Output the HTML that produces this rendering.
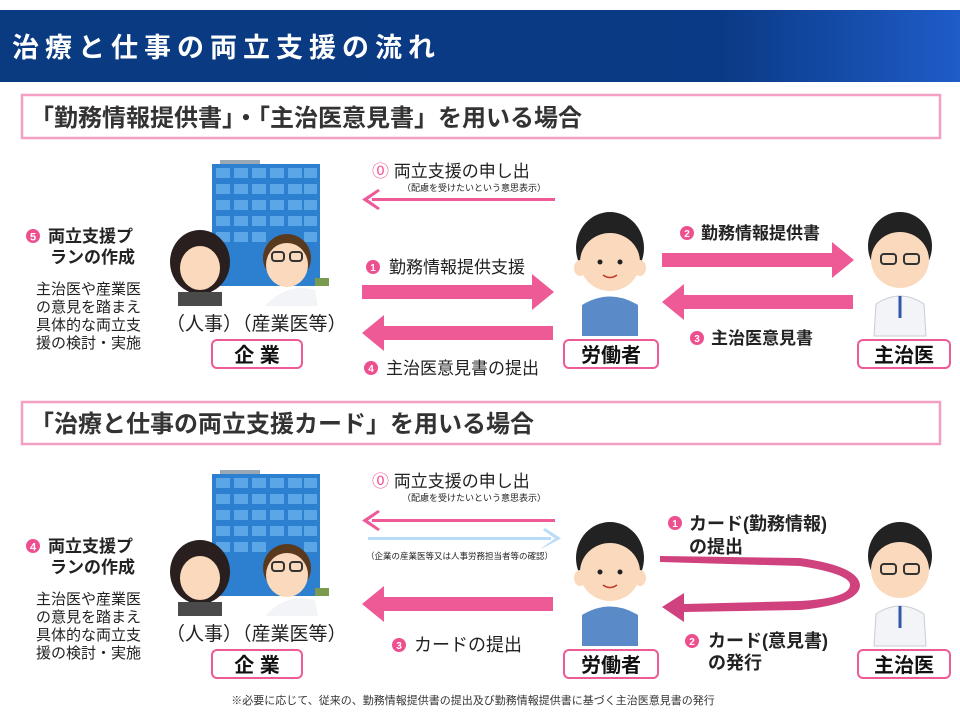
<!DOCTYPE html>
<html><head><meta charset="utf-8"><style>
html,body{margin:0;padding:0;background:#fff;}
svg{display:block;font-family:"Liberation Sans","Noto Sans CJK JP",sans-serif;}
</style></head><body>
<svg width="960" height="720" viewBox="0 0 960 720" xmlns="http://www.w3.org/2000/svg">
<defs>
<linearGradient id="hd" x1="0" x2="1" y1="0" y2="0">
<stop offset="0" stop-color="#0a3a80"/><stop offset="0.75" stop-color="#0a3a85"/><stop offset="1" stop-color="#1f5cc8"/>
</linearGradient>
<g id="bld">
<rect x="220" y="160" width="40" height="5" fill="#9aa7b5"/>
<rect x="212" y="164" width="108" height="122" fill="#2d7fd0"/>
<g fill="#5aa6e6">
<rect x="216" y="168" width="14" height="10"/><rect x="234" y="168" width="14" height="10"/><rect x="252" y="168" width="14" height="10"/><rect x="270" y="168" width="14" height="10"/><rect x="288" y="168" width="14" height="10"/><rect x="304" y="168" width="13" height="10"/>
<rect x="216" y="184" width="14" height="10"/><rect x="234" y="184" width="14" height="10"/><rect x="252" y="184" width="14" height="10"/><rect x="270" y="184" width="14" height="10"/><rect x="288" y="184" width="14" height="10"/><rect x="304" y="184" width="13" height="10"/>
<rect x="216" y="200" width="14" height="10"/><rect x="234" y="200" width="14" height="10"/><rect x="252" y="200" width="14" height="10"/><rect x="270" y="200" width="14" height="10"/><rect x="288" y="200" width="14" height="10"/><rect x="304" y="200" width="13" height="10"/>
<rect x="216" y="216" width="14" height="10"/><rect x="234" y="216" width="14" height="10"/><rect x="252" y="216" width="14" height="10"/><rect x="270" y="216" width="14" height="10"/><rect x="288" y="216" width="14" height="10"/><rect x="304" y="216" width="13" height="10"/>
<rect x="216" y="232" width="14" height="10"/><rect x="234" y="232" width="14" height="10"/><rect x="252" y="232" width="14" height="10"/><rect x="304" y="232" width="13" height="10"/>
</g>
<ellipse cx="200" cy="262" rx="30" ry="32" fill="#2a1f1f"/>
<ellipse cx="200" cy="268" rx="20" ry="22" fill="#fbd9bd"/>
<path d="M178 305 Q200 285 222 305 Z" fill="#444"/>
<rect x="178" y="292" width="44" height="14" fill="#4a4a4a"/>
<ellipse cx="287" cy="258" rx="24" ry="24" fill="#5a3a1e"/>
<ellipse cx="287" cy="265" rx="21" ry="22" fill="#fbd9bd"/>
<rect x="272" y="252" width="12" height="9" rx="3" fill="none" stroke="#333" stroke-width="2"/>
<rect x="290" y="252" width="12" height="9" rx="3" fill="none" stroke="#333" stroke-width="2"/>
<path d="M265 306 Q287 282 315 290 L318 306 Z" fill="#f2f4f7"/>
<rect x="315" y="278" width="14" height="8" fill="#7a9b4e"/>
</g>
<g id="worker">
<ellipse cx="610" cy="248" rx="34" ry="36" fill="#222"/>
<ellipse cx="610" cy="262" rx="30" ry="29" fill="#fbd9bd"/>
<ellipse cx="580" cy="268" rx="6" ry="8" fill="#fbd9bd"/><ellipse cx="640" cy="268" rx="6" ry="8" fill="#fbd9bd"/>
<circle cx="600" cy="262" r="2.5" fill="#222"/><circle cx="620" cy="262" r="2.5" fill="#222"/>
<path d="M603 275 Q610 280 617 275" stroke="#c0392b" stroke-width="1.5" fill="none"/>
<path d="M582 336 L582 305 Q610 288 638 305 L638 336 Z" fill="#5a8bc8"/>
</g>
<g id="doc">
<ellipse cx="900" cy="246" rx="32" ry="34" fill="#222"/>
<ellipse cx="900" cy="260" rx="29" ry="28" fill="#fbd9bd"/>
<rect x="881" y="254" width="15" height="10" rx="3" fill="none" stroke="#333" stroke-width="2"/>
<rect x="904" y="254" width="15" height="10" rx="3" fill="none" stroke="#333" stroke-width="2"/>
<path d="M874 336 L876 304 Q900 288 924 304 L926 336 Z" fill="#f2f4f7" stroke="#c8ccd4"/>
<path d="M900 296 L900 318" stroke="#3355aa" stroke-width="3"/>
</g>
</defs>

<rect x="0" y="10" width="960" height="72" fill="url(#hd)"/>
<text x="12" y="57" font-size="27" font-weight="bold" fill="#fff" letter-spacing="6">治療と仕事の両立支援の流れ</text>

<rect x="22" y="95" width="918" height="43" fill="#fff" stroke="#f3a0c4" stroke-width="2.5"/>
<text x="30" y="126" font-size="24" font-weight="bold" fill="#333">「勤務情報提供書」・「主治医意見書」を用いる場合</text>

<use href="#bld"/>
<use href="#worker"/>
<use href="#doc"/>

<g font-size="15" fill="#222">
<circle cx="33" cy="236" r="7" fill="#ee4f8f"/><text x="33" y="240.5" font-size="11" fill="#fff" text-anchor="middle" font-weight="bold">5</text>
<text x="48" y="242" font-size="17" font-weight="bold">両立支援プ</text>
<text x="50" y="263" font-size="17" font-weight="bold">ランの作成</text>
<text x="36" y="294">主治医や産業医</text>
<text x="36" y="312">の意見を踏まえ</text>
<text x="36" y="330">具体的な両立支</text>
<text x="36" y="348">援の検討・実施</text>
</g>
<text x="166" y="330" font-size="19" fill="#222">（人事）（産業医等）</text>
<rect x="212" y="340" width="90" height="28" rx="5" fill="#fff" stroke="#ee5a96" stroke-width="2"/>
<text x="257" y="362" font-size="20" font-weight="bold" text-anchor="middle" fill="#111">企 業</text>
<rect x="564" y="340" width="94" height="28" rx="5" fill="#fff" stroke="#ee5a96" stroke-width="2"/>
<text x="611" y="362" font-size="20" font-weight="bold" text-anchor="middle" fill="#111">労働者</text>
<rect x="858" y="340" width="92" height="28" rx="5" fill="#fff" stroke="#ee5a96" stroke-width="2"/>
<text x="904" y="362" font-size="20" font-weight="bold" text-anchor="middle" fill="#111">主治医</text>

<g fill="#ee5a96">
<rect x="372" y="198" width="183" height="3"/><path d="M362 199.5 L378 189 L380 191 L368 199.5 L380 208 L378 210 Z"/>
<path d="M362 285 L532 285 L532 274 L554 292 L532 310 L532 299 L362 299 Z"/>
<path d="M553 326 L384 326 L384 315 L362 333 L384 351 L384 340 L553 340 Z"/>
<path d="M662 253 L832 253 L832 242 L854 260 L832 278 L832 267 L662 267 Z"/>
<path d="M853 295 L684 295 L684 284 L662 302 L684 320 L684 309 L853 309 Z"/>
</g>
<g font-size="17" fill="#222">
<text x="372" y="177"><tspan fill="#ee5a96">⓪</tspan> 両立支援の申し出</text>
<text x="402" y="191" font-size="9">（配慮を受けたいという意思表示）</text>
<circle cx="373" cy="267" r="7" fill="#ee4f8f"/><text x="373" y="271" font-size="10" fill="#fff" text-anchor="middle" font-weight="bold">1</text>
<text x="389" y="273">勤務情報提供支援</text>
<circle cx="371" cy="368" r="7" fill="#ee4f8f"/><text x="371" y="372" font-size="10" fill="#fff" text-anchor="middle" font-weight="bold">4</text>
<text x="386" y="374">主治医意見書の提出</text>
<circle cx="687" cy="233" r="7" fill="#ee4f8f"/><text x="687" y="237" font-size="10" fill="#fff" text-anchor="middle" font-weight="bold">2</text>
<text x="701" y="239" font-weight="bold">勤務情報提供書</text>
<circle cx="697" cy="338" r="7" fill="#ee4f8f"/><text x="697" y="342" font-size="10" fill="#fff" text-anchor="middle" font-weight="bold">3</text>
<text x="711" y="344" font-weight="bold">主治医意見書</text>
</g>

<rect x="22" y="402" width="918" height="42" fill="#fff" stroke="#f3a0c4" stroke-width="2.5"/>
<text x="30" y="432" font-size="24" font-weight="bold" fill="#333">「治療と仕事の両立支援カード」を用いる場合</text>

<g transform="translate(0,310)">
<use href="#bld"/>
<use href="#worker"/>
<use href="#doc"/>
<g font-size="15" fill="#222">
<circle cx="33" cy="236" r="7" fill="#ee4f8f"/><text x="33" y="240.5" font-size="11" fill="#fff" text-anchor="middle" font-weight="bold">4</text>
<text x="48" y="242" font-size="17" font-weight="bold">両立支援プ</text>
<text x="50" y="263" font-size="17" font-weight="bold">ランの作成</text>
<text x="36" y="294">主治医や産業医</text>
<text x="36" y="312">の意見を踏まえ</text>
<text x="36" y="330">具体的な両立支</text>
<text x="36" y="348">援の検討・実施</text>
</g>
<text x="166" y="330" font-size="19" fill="#222">（人事）（産業医等）</text>
<rect x="212" y="340" width="90" height="28" rx="5" fill="#fff" stroke="#ee5a96" stroke-width="2"/>
<text x="257" y="362" font-size="20" font-weight="bold" text-anchor="middle" fill="#111">企 業</text>
<rect x="564" y="340" width="94" height="28" rx="5" fill="#fff" stroke="#ee5a96" stroke-width="2"/>
<text x="611" y="362" font-size="20" font-weight="bold" text-anchor="middle" fill="#111">労働者</text>
<rect x="858" y="340" width="92" height="28" rx="5" fill="#fff" stroke="#ee5a96" stroke-width="2"/>
<text x="904" y="362" font-size="20" font-weight="bold" text-anchor="middle" fill="#111">主治医</text>
</g>

<g fill="#ee5a96">
<rect x="372" y="519" width="183" height="3"/><path d="M362 520.5 L378 510 L380 512 L368 520.5 L380 529 L378 531 Z"/>
<path d="M553 597 L384 597 L384 586 L362 604 L384 622 L384 611 L553 611 Z"/>
</g>
<g fill="#b8dcfa">
<rect x="368" y="537" width="183" height="3"/><path d="M561 538.5 L545 528 L543 530 L555 538.5 L543 547 L541 549 Z"/>
</g>
<path d="M660 562 L800 566 Q850 574 850 585 Q850 598 800 601 L684 604 L684 593 L662 607 L684 622 L684 612 L800 610 Q860 604 860 585 Q858 566 800 558 L660 556 Z" fill="#d0427e"/>
<g font-size="17" fill="#222">
<text x="372" y="487"><tspan fill="#ee5a96">⓪</tspan> 両立支援の申し出</text>
<text x="402" y="501" font-size="9">（配慮を受けたいという意思表示）</text>
<text x="366" y="559" font-size="8.5">（企業の産業医等又は人事労務担当者等の確認）</text>
<circle cx="399" cy="645" r="7" fill="#ee4f8f"/><text x="399" y="649" font-size="10" fill="#fff" text-anchor="middle" font-weight="bold">3</text>
<text x="414" y="651" font-size="18">カードの提出</text>
<circle cx="675" cy="523" r="7" fill="#ee4f8f"/><text x="675" y="527" font-size="10" fill="#fff" text-anchor="middle" font-weight="bold">1</text>
<text x="689" y="530" font-size="18" font-weight="bold">カード(勤務情報)</text>
<text x="689" y="553" font-size="18" font-weight="bold">の提出</text>
<circle cx="692" cy="641" r="7" fill="#ee4f8f"/><text x="692" y="645" font-size="10" fill="#fff" text-anchor="middle" font-weight="bold">2</text>
<text x="708" y="647" font-size="18" font-weight="bold">カード(意見書)</text>
<text x="708" y="669" font-size="18" font-weight="bold">の発行</text>
</g>
<text x="473" y="704" font-size="11" fill="#333" text-anchor="middle">※必要に応じて、従来の、勤務情報提供書の提出及び勤務情報提供書に基づく主治医意見書の発行</text>
</svg>
</body></html>
